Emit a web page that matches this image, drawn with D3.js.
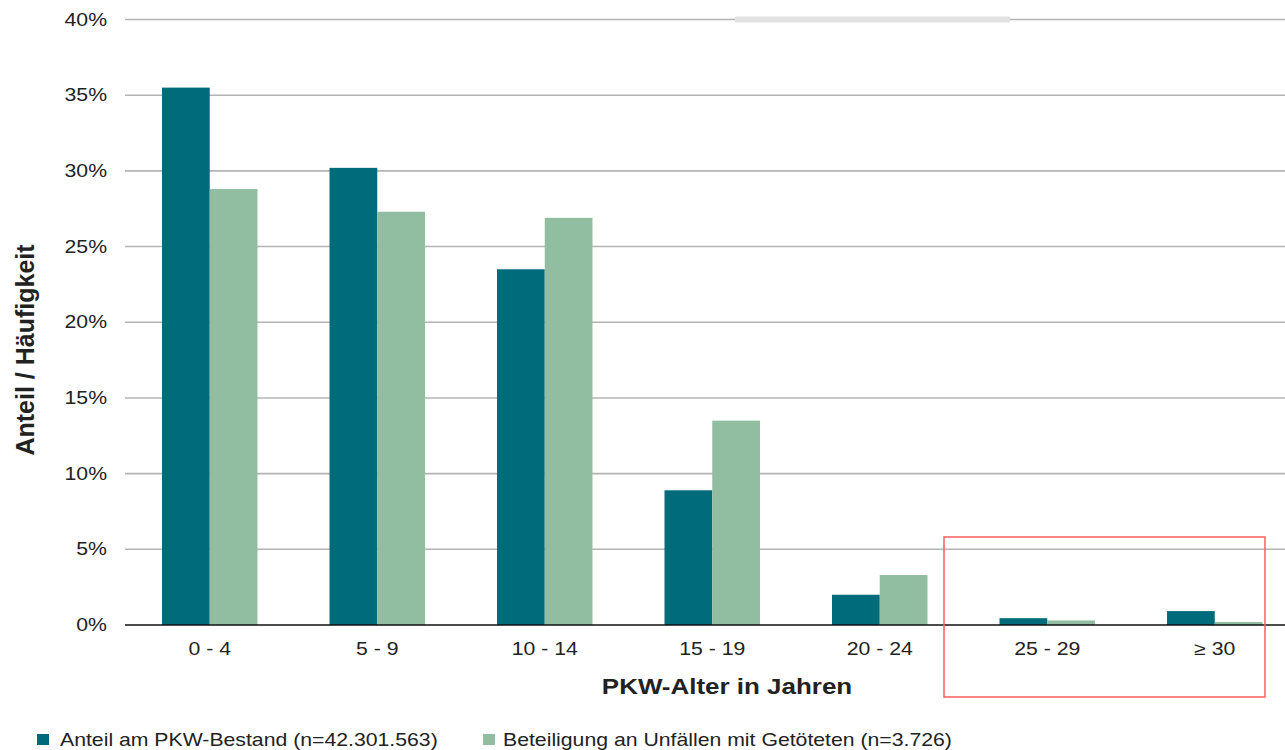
<!DOCTYPE html>
<html>
<head>
<meta charset="utf-8">
<script src="https://cdn.jsdelivr.net/npm/d3@7"></script>
<style>
  body { margin: 0; background: #fff; }
  text { font-family: "Liberation Sans", Arial, sans-serif; fill: #222; }
</style>
</head>
<body>
<svg id="chart" width="1285" height="750"></svg>
<script>
// data
let categories = ["0 - 4", "5 - 9", "10 - 14", "15 - 19", "20 - 24", "25 - 29", "\u2265 30"];
let seriesNames = ["Anteil am PKW-Bestand (n=42.301.563)", "Beteiligung an Unfällen mit Getöteten (n=3.726)"];
let bestand = [35.5, 30.2, 23.5, 8.9, 2.0, 0.45, 0.92];
let unfaelle = [28.8, 27.3, 26.9, 13.5, 3.3, 0.3, 0.2];
let yTicks = [0, 5, 10, 15, 20, 25, 30, 35, 40];

let colors = ["#006b7b", "#91bda0"];
let stretch = 1.18; // the source text is a bit wide

let svg = d3.select("#chart");

let plotLeft = 126, plotRight = 1298.5, plotTop = 19.5, plotBottom = 625;

let x0 = d3.scaleBand()
    .domain(categories)
    .range([plotLeft, plotRight])
    .paddingInner(0.43)
    .paddingOuter(0.215);

let x1 = d3.scaleBand()
    .domain([0, 1])
    .range([0, x0.bandwidth()]);

let y = d3.scaleLinear()
    .domain([0, 40])
    .range([plotBottom, plotTop]);

function place(x, yy) {
    return "translate(" + x + "," + yy + ") scale(" + stretch + ",1)";
}

// gridlines
svg.append("g")
    .selectAll("line")
    .data(yTicks.filter(d => d > 0))
    .enter().append("line")
    .attr("x1", 125)
    .attr("x2", 1285)
    .attr("y1", d => y(d))
    .attr("y2", d => y(d))
    .attr("stroke", "#b4b4b4")
    .attr("stroke-width", 1.6);

// pale smear over the top gridline
svg.append("rect")
    .attr("x", 735).attr("y", y(40) - 3)
    .attr("width", 275).attr("height", 6)
    .attr("fill", "#e2e2e2");

// y tick labels
svg.append("g")
    .selectAll("text")
    .data(yTicks)
    .enter().append("text")
    .attr("transform", d => place(107, y(d) + 6))
    .attr("text-anchor", "end")
    .attr("font-size", "18px")
    .text(d => d + "%");

// bars
let rows = categories.map((c, i) => ({cat: c, vals: [bestand[i], unfaelle[i]]}));

let groups = svg.append("g")
    .selectAll("g")
    .data(rows)
    .enter().append("g")
    .attr("transform", d => "translate(" + x0(d.cat) + ",0)");

groups.selectAll("rect")
    .data(d => d.vals.map((v, k) => ({k: k, v: v})))
    .enter().append("rect")
    .attr("x", d => x1(d.k))
    .attr("width", x1.bandwidth())
    .attr("y", d => y(d.v))
    .attr("height", d => y(0) - y(d.v))
    .attr("fill", d => colors[d.k]);

// x axis line
svg.append("line")
    .attr("x1", 125).attr("x2", 1285)
    .attr("y1", y(0)).attr("y2", y(0))
    .attr("stroke", "#111")
    .attr("stroke-width", 1.5);

// x tick labels
svg.append("g")
    .selectAll("text")
    .data(categories)
    .enter().append("text")
    .attr("transform", d => place(x0(d) + x0.bandwidth() / 2, 655))
    .attr("text-anchor", "middle")
    .attr("font-size", "18px")
    .text(d => d);

// axis titles
svg.append("text")
    .attr("transform", place(727, 694))
    .attr("text-anchor", "middle")
    .attr("font-size", "22px")
    .attr("font-weight", "bold")
    .text("PKW-Alter in Jahren");

svg.append("text")
    .attr("transform", "translate(34,350) rotate(-90)")
    .attr("text-anchor", "middle")
    .attr("font-size", "25px")
    .attr("font-weight", "bold")
    .text("Anteil / Häufigkeit");

// red highlight box
svg.append("rect")
    .attr("x", 944).attr("y", 537)
    .attr("width", 321).attr("height", 160)
    .attr("fill", "none")
    .attr("stroke", "#ff5c5c")
    .attr("stroke-width", 1.5);

// legend
let legendX = [37, 483];
let legend = svg.append("g")
    .selectAll("g")
    .data(seriesNames)
    .enter().append("g")
    .attr("transform", (d, i) => "translate(" + legendX[i] + ",734)");

legend.append("rect")
    .attr("width", 12).attr("height", 11)
    .attr("fill", (d, i) => colors[i]);

legend.append("text")
    .attr("transform", (d, i) => place(i === 0 ? 23 : 20, 12))
    .attr("font-size", "18px")
    .text(d => d);
</script>
</body>
</html>
